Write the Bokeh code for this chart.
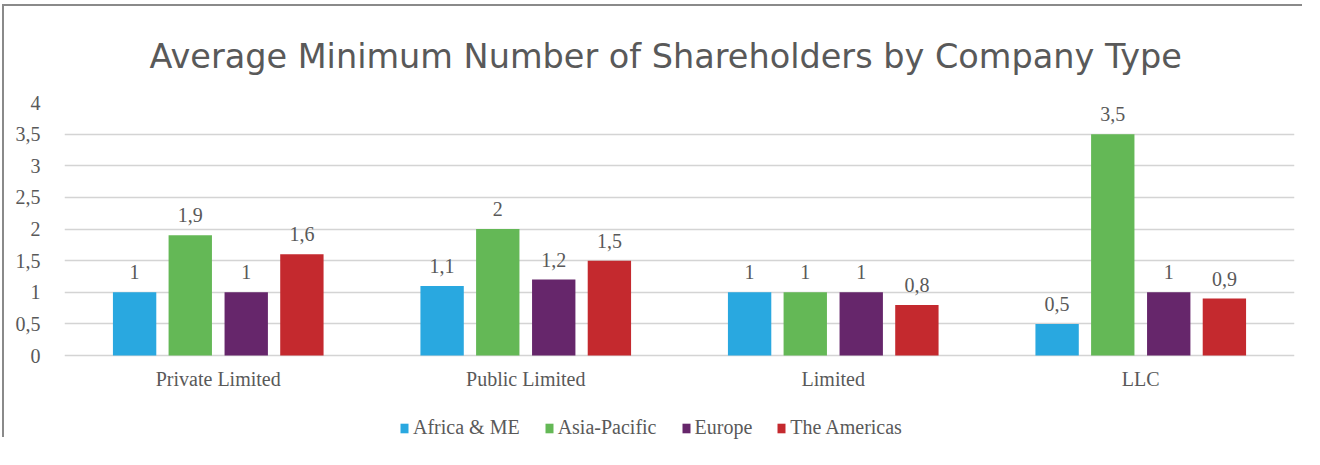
from bokeh.plotting import figure
from bokeh.models import (ColumnDataSource, FixedTicker, CustomJSTickFormatter, Range1d,
                          LabelSet, Legend, LegendItem)
from bokeh.transform import dodge
from bokeh.embed import file_html
from bokeh.resources import INLINE

categories = ["Private Limited", "Public Limited", "Limited", "LLC"]
series_names = ["Africa & ME", "Asia-Pacific", "Europe", "The Americas"]
africa_me = [1, 1.1, 1, 0.5]
asia_pacific = [1.9, 2, 1, 3.5]
europe = [1, 1.2, 1, 1]
the_americas = [1.6, 1.5, 0.8, 0.9]
y_ticks = [0, 0.5, 1, 1.5, 2, 2.5, 3, 3.5, 4]
colors = ["#29A8E0", "#64B856", "#66266B", "#C4292E"]

series_values = [africa_me, asia_pacific, europe, the_americas]
offsets = [-0.272, -0.091, 0.091, 0.272]

def fmt(v):
    return ("%g" % v).replace(".", ",")

xs = [i + 0.5 for i in range(len(categories))]
data = {"x": xs, "cat": categories, "zero": [0] * len(categories)}
for i, vals in enumerate(series_values):
    data["s%d" % i] = vals
    data["l%d" % i] = [fmt(v) for v in vals]
src = ColumnDataSource(data)

TXT = "#595959"
SERIF = "Liberation Serif"

# frame extends below the zero line to hold category labels and legend
Y_TOP = max(y_ticks)
Y_BOTTOM = -Y_TOP * 84.0 / 253.0

p = figure(x_range=Range1d(0, len(categories)), y_range=Range1d(Y_BOTTOM, Y_TOP),
           width=1300, height=433, output_backend="svg", toolbar_location=None,
           x_axis_location=None,
           title="Average Minimum Number of Shareholders by Company Type",
           min_border_left=60, min_border_right=10, min_border_top=96, min_border_bottom=0)
p.margin = (4, 0, 0, 2)
p.styles = {"border-top": "2px solid #8a8a8a", "border-left": "2px solid #8a8a8a"}
p.title.align = "left"
p.title.offset = 85
p.title.text_font = "DejaVu Sans"
p.title.text_font_size = "33.5px"
p.title.text_color = TXT
p.title.text_font_style = "normal"
p.title.standoff = 54
p.outline_line_color = None

items = []
for i, (vals, name, col) in enumerate(zip(series_values, series_names, colors)):
    r = p.vbar(x=dodge("x", offsets[i]), top="s%d" % i, width=0.141,
               source=src, fill_color=col, line_color=None)
    items.append(LegendItem(label=name, renderers=[r]))
    p.add_layout(LabelSet(x=dodge("x", offsets[i]), y="s%d" % i, text="l%d" % i,
                          source=src, text_align="center", text_baseline="bottom", y_offset=13,
                          text_font=SERIF, text_font_size="20px", text_color=TXT))

# category labels under the zero line
p.add_layout(LabelSet(x="x", y="zero", text="cat", source=src, text_align="center",
                      text_baseline="middle", y_offset=-23,
                      text_font=SERIF, text_font_size="20px", text_color=TXT))

p.yaxis.ticker = FixedTicker(ticks=y_ticks)
p.yaxis.formatter = CustomJSTickFormatter(code="return tick.toString().replace('.', ',');")
p.yaxis.axis_line_color = None
p.yaxis.major_tick_line_color = None
p.yaxis.minor_tick_line_color = None
p.yaxis.major_label_text_font = SERIF
p.yaxis.major_label_text_font_size = "20px"
p.yaxis.major_label_text_color = TXT
p.yaxis.major_label_standoff = 18

p.xgrid.grid_line_color = None
p.ygrid.grid_line_color = "#d4d4d4"
p.ygrid.grid_line_width = 1.5

legend = Legend(items=items, orientation="horizontal", location=(335, 0),
                label_text_font=SERIF, label_text_font_size="20px", label_text_color=TXT,
                glyph_width=10, glyph_height=12, label_standoff=4, spacing=24,
                border_line_color=None, background_fill_alpha=0, padding=0, margin=0)
p.add_layout(legend)

open("out.html", "w").write(file_html(p, INLINE))
